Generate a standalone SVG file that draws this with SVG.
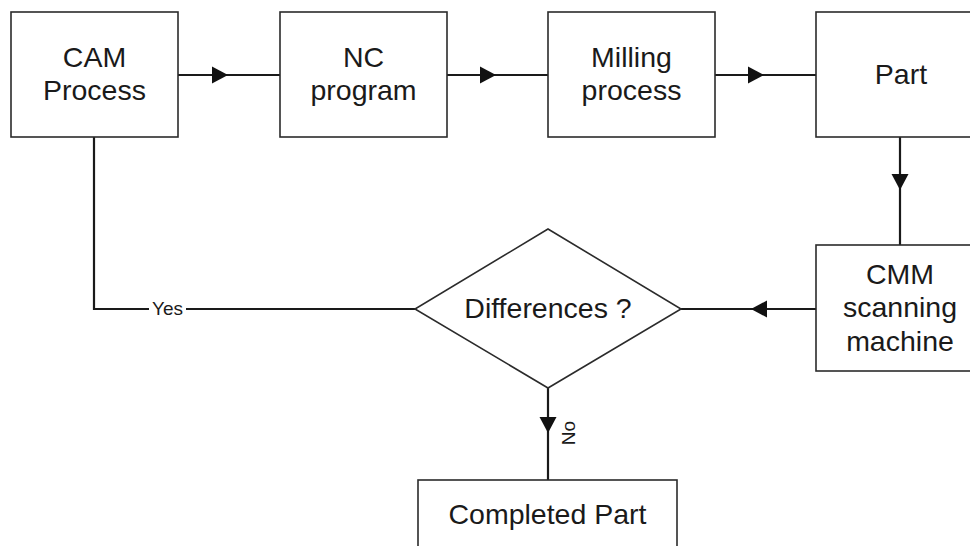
<svg xmlns="http://www.w3.org/2000/svg" width="970" height="546" viewBox="0 0 970 546">
  <style>
    .box { fill: #ffffff; stroke: #2b2b2b; stroke-width: 1.6; }
    .lbl { font-family: "Liberation Sans", Arial, sans-serif; font-size: 28.5px; fill: #1a1a1a; text-anchor: middle; }
    .edge { fill: none; stroke: #1a1a1a; stroke-width: 2.2; }
    .head { fill: #111111; }
    .elbl { font-family: "Liberation Sans", Arial, sans-serif; font-size: 19px; fill: #1a1a1a; text-anchor: middle; }
  </style>
  <rect width="970" height="546" fill="#ffffff"/>

  <g id="connectors">
    <!-- CAM -> NC -->
    <line class="edge" x1="178" y1="75" x2="280" y2="75"/>
    <polygon class="head" points="228,75 212,66.5 212,83.5"/>
    <!-- NC -> Milling -->
    <line class="edge" x1="447" y1="75" x2="548" y2="75"/>
    <polygon class="head" points="496,75 480,66.5 480,83.5"/>
    <!-- Milling -> Part -->
    <line class="edge" x1="715" y1="75" x2="816" y2="75"/>
    <polygon class="head" points="764,75 748,66.5 748,83.5"/>
    <!-- Part -> CMM -->
    <line class="edge" x1="900" y1="137" x2="900" y2="245"/>
    <polygon class="head" points="900,190 891.5,174 908.5,174"/>
    <!-- CMM -> Differences -->
    <line class="edge" x1="816" y1="309" x2="681" y2="309"/>
    <polygon class="head" points="751,309 767,300.5 767,317.5"/>
    <!-- Differences -> CAM (Yes) -->
    <polyline class="edge" points="415,309 94,309 94,137"/>
    <rect x="149" y="298" width="37" height="20" fill="#ffffff"/>
    <text class="elbl" x="167.5" y="315">Yes</text>
    <!-- Differences -> Completed Part (No) -->
    <line class="edge" x1="548" y1="388" x2="548" y2="480"/>
    <polygon class="head" points="548,433 539.5,417 556.5,417"/>
    <text class="elbl" transform="translate(575,433) rotate(-90)" x="0" y="0">No</text>
  </g>

  <g id="cam-process">
    <rect class="box" x="11" y="12" width="167" height="125"/>
    <text class="lbl" x="94.5" y="67">CAM</text>
    <text class="lbl" x="94.5" y="100">Process</text>
  </g>

  <g id="nc-program">
    <rect class="box" x="280" y="12" width="167" height="125"/>
    <text class="lbl" x="363.5" y="67">NC</text>
    <text class="lbl" x="363.5" y="100">program</text>
  </g>

  <g id="milling-process">
    <rect class="box" x="548" y="12" width="167" height="125"/>
    <text class="lbl" x="631.5" y="67">Milling</text>
    <text class="lbl" x="631.5" y="100">process</text>
  </g>

  <g id="part">
    <rect class="box" x="816" y="12" width="170" height="125"/>
    <text class="lbl" x="901" y="84">Part</text>
  </g>

  <g id="cmm-scanning-machine">
    <rect class="box" x="816" y="245" width="170" height="126"/>
    <text class="lbl" x="900" y="284">CMM</text>
    <text class="lbl" x="900" y="317">scanning</text>
    <text class="lbl" x="900" y="351">machine</text>
  </g>

  <g id="differences">
    <polygon class="box" points="548,229 681,309 548,388 415,309"/>
    <text class="lbl" x="548" y="318">Differences ?</text>
  </g>

  <g id="completed-part">
    <rect class="box" x="418" y="480" width="259" height="80"/>
    <text class="lbl" x="547.5" y="524">Completed Part</text>
  </g>
</svg>
